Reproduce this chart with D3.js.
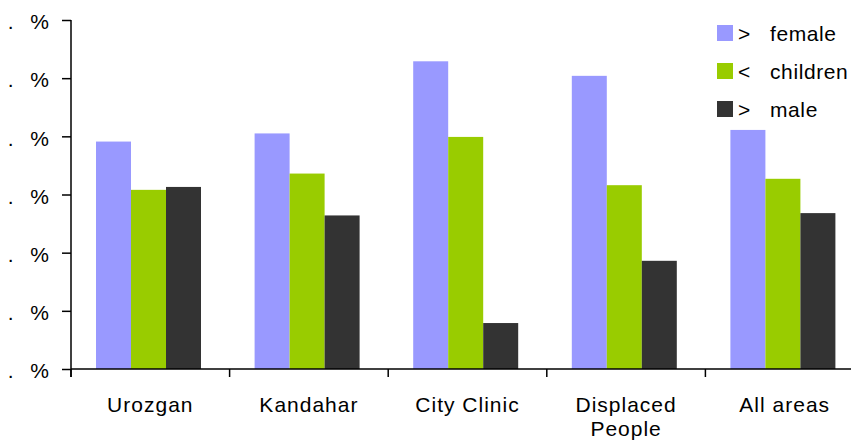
<!DOCTYPE html>
<html>
<head>
<meta charset="utf-8">
<script src="https://cdn.jsdelivr.net/npm/d3@7/dist/d3.min.js"></script>
<style>
  html, body { margin: 0; padding: 0; background: #fff; }
  svg { display: block; font-family: "Liberation Sans", Arial, sans-serif; }
  text { fill: #000; font-size: 21px; letter-spacing: 1px; }
  .legend text { letter-spacing: 0.6px; }
</style>
</head>
<body>
<svg id="chart" width="851" height="443"></svg>
<script>
// Area groups along the x axis (a line break splits a two-line label)
const categories = ["Urozgan", "Kandahar", "City Clinic", "Displaced\nPeople", "All areas"];

// Series and their bar heights per area
const seriesNames = ["female", "children", "male"];
const seriesSymbols = [">", "<", ">"];
const femaleValues   = [39.1, 40.5, 52.9, 50.4, 41.1];
const childrenValues = [30.8, 33.6, 39.9, 31.6, 32.7];
const maleValues     = [31.3, 26.4, 7.9, 18.6, 26.8];

// Value axis ticks and their printed labels
const yTicks = [0, 10, 20, 30, 40, 50, 60];
const yTickLabels = [". %", ". %", ". %", ". %", ". %", ". %", ". %"];

const seriesColors = ["#9999FF", "#99CC00", "#333333"];
const seriesValues = [femaleValues, childrenValues, maleValues];

const svg = d3.select("#chart");

const x = d3.scaleBand().domain(categories).range([71, 864]);
const xInner = d3.scaleBand().domain(seriesNames).range([25, 130]);
const y = d3.scaleLinear().domain([0, 60]).range([369, 20]);
const color = d3.scaleOrdinal().domain(seriesNames).range(seriesColors);

// Bars
const rows = categories.map((c, i) => ({
  cat: c,
  vals: seriesNames.map((s, j) => ({ s, v: seriesValues[j][i] }))
}));

const groups = svg.append("g").selectAll("g")
  .data(rows).join("g")
  .attr("transform", d => `translate(${x(d.cat)},0)`);

groups.selectAll("rect")
  .data(d => d.vals).join("rect")
  .attr("x", d => xInner(d.s))
  .attr("width", xInner.bandwidth())
  .attr("y", d => y(d.v))
  .attr("height", d => y(0) - y(d.v))
  .attr("fill", d => color(d.s));

// Value axis
const yAxis = d3.axisLeft(y)
  .tickValues(yTicks)
  .tickSize(9)
  .tickPadding(12)
  .tickFormat((d, i) => yTickLabels[i]);

const yg = svg.append("g").attr("transform", "translate(71,0)").call(yAxis);
yg.select(".domain").remove();
yg.selectAll(".tick line").attr("stroke", "#000").attr("stroke-width", 1.5);
yg.selectAll(".tick text")
  .attr("font-family", null).attr("font-size", null)
  .style("white-space", "pre")
  .style("word-spacing", "9px")
  .attr("dy", "0.42em");
yg.append("line")
  .attr("x1", 0).attr("x2", 0)
  .attr("y1", y(60)).attr("y2", y(0) + 8)
  .attr("stroke", "#000").attr("stroke-width", 1.5);

// Category axis: ticks sit on the boundaries between groups
const xg = svg.append("g");
xg.append("line")
  .attr("x1", x.range()[0]).attr("x2", x.range()[1])
  .attr("y1", y(0)).attr("y2", y(0))
  .attr("stroke", "#000").attr("stroke-width", 1.5);
xg.selectAll("line.tick")
  .data(categories.map(c => x(c)).concat([x.range()[1]]))
  .join("line").attr("class", "tick")
  .attr("x1", d => d).attr("x2", d => d)
  .attr("y1", y(0)).attr("y2", y(0) + 8)
  .attr("stroke", "#000").attr("stroke-width", 1.5);

xg.selectAll("text.cat")
  .data(categories).join("text").attr("class", "cat")
  .attr("text-anchor", "middle")
  .attr("transform", d => `translate(${x(d) + x.bandwidth() / 2},411.5)`)
  .selectAll("tspan")
  .data(d => d.split("\n")).join("tspan")
  .attr("x", 0)
  .attr("dy", (d, i) => i === 0 ? 0 : 24)
  .text(d => d);

// Legend
const legend = svg.append("g").attr("class", "legend").attr("transform", "translate(717,25)");
const item = legend.selectAll("g")
  .data(seriesNames).join("g")
  .attr("transform", (d, i) => `translate(0,${i * 38})`);
item.append("rect")
  .attr("width", 16).attr("height", 16)
  .attr("fill", d => color(d));
item.append("text")
  .attr("x", 21).attr("y", 15.5)
  .text((d, i) => seriesSymbols[i]);
item.append("text")
  .attr("x", 53).attr("y", 15.5)
  .text(d => d);
</script>
</body>
</html>
